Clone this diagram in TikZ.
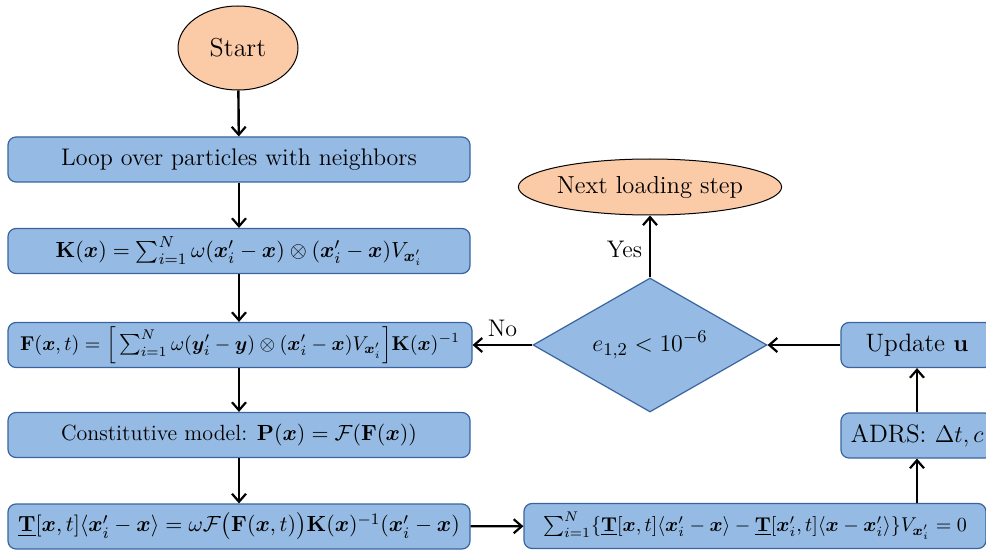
\documentclass[tikz,border=0pt]{standalone}
\usepackage{amsmath,amssymb,bm}
\usetikzlibrary{shapes.geometric,arrows.meta}
\definecolor{boxblue}{RGB}{149,186,227}
\definecolor{boxedge}{RGB}{58,100,160}
\definecolor{startorange}{RGB}{251,203,168}
\newcommand{\bx}{\boldsymbol{x}}
\newcommand{\by}{\boldsymbol{y}}
\newcommand{\uT}{\underline{\mathbf{T}}}
\tikzset{
  procbox/.style={draw=boxedge, fill=boxblue, rounded corners=4pt, line width=0.6pt,
    minimum width=231pt, minimum height=22.5pt, inner sep=0pt, font=\fontsize{12}{14}\selectfont},
  mathbox/.style={procbox, font=\fontsize{11}{13}\selectfont},
  smallbox/.style={procbox, minimum width=76pt, font=\fontsize{12.6}{15}\selectfont},
  termnode/.style={draw=black, fill=startorange, ellipse, line width=0.5pt, inner sep=0pt},
  decnode/.style={draw=boxedge, fill=boxblue, diamond, line width=0.6pt, inner sep=0pt, aspect=1.75,
    minimum width=117pt, minimum height=67pt, font=\fontsize{12.5}{15}\selectfont},
  flow/.style={-{Straight Barb[length=4pt,width=7pt,line width=1.1pt]}, line width=1.2pt, black},
  lbl/.style={font=\fontsize{12}{14}\selectfont}
}
\begin{document}
\begin{tikzpicture}[x=0.5pt,y=-0.5pt]
\useasboundingbox (0,0) rectangle (986,551);
\clip (0,0) rectangle (986,551);
\node[termnode, minimum width=60pt, minimum height=42pt, font=\fontsize{13}{15}\selectfont] (start) at (238,48) {Start};
\node[procbox] (loop) at (239,159.5) {Loop over particles with neighbors};
\node[mathbox, font=\fontsize{10.85}{13}\selectfont] (K) at (239,251) {$\mathbf{K}(\bx) = \sum_{i=1}^{N} \omega(\bx'_i - \bx) \otimes (\bx'_i - \bx) V_{\bx'_i}$};
\node[mathbox, minimum width=232pt, font=\fontsize{10.3}{12}\selectfont] (F) at (240,345) {$\mathbf{F}(\bx,t) = \Big[\sum_{i=1}^{N} \omega(\by'_i - \by) \otimes (\bx'_i - \bx) V_{\bx'_i}\Big]\mathbf{K}(\bx)^{-1}$};
\node[mathbox] (P) at (239,435) {Constitutive model: $\mathbf{P}(\bx) = \mathcal{F}(\mathbf{F}(\bx))$};
\node[mathbox, font=\fontsize{11.3}{13}\selectfont] (T) at (239,526.5) {$\uT[\bx,t]\langle\bx'_i - \bx\rangle = \omega\mathcal{F}\big(\mathbf{F}(\bx,t)\big)\mathbf{K}(\bx)^{-1}(\bx'_i - \bx)$};
\node[mathbox, font=\fontsize{10}{12}\selectfont] (S) at (755,526) {$\sum_{i=1}^{N}\{\uT[\bx,t]\langle\bx'_i - \bx\rangle - \uT[\bx'_i,t]\langle\bx - \bx'_i\rangle\}V_{\bx'_i} = 0$};
\node[smallbox] (A) at (917,435.5) {ADRS: $\Delta t, c$};
\node[smallbox] (U) at (917,345) {Update $\mathbf{u}$};
\node[decnode] (D) at (650,345) {$e_{1,2} < 10^{-6}$};
\node[termnode, minimum width=129pt, minimum height=28pt, font=\fontsize{12.3}{14}\selectfont] (N) at (650,187) {Next loading step};
\draw[flow] (start) -- (loop);
\draw[flow] (loop) -- (K);
\draw[flow] (K) -- (F.north -| K.south);
\draw[flow] (F.south -| K.south) -- (P);
\draw[flow] (P) -- (T);
\draw[flow] (T) -- (S);
\draw[flow] (S.north -| A.south) -- (A);
\draw[flow] (A) -- (U);
\draw[flow] (U) -- (D);
\draw[flow] (D) -- node[lbl, above, pos=0.5] {No} (F);
\draw[flow] (D) -- node[lbl, left, pos=0.45] {Yes} (N);
\end{tikzpicture}
\end{document}
